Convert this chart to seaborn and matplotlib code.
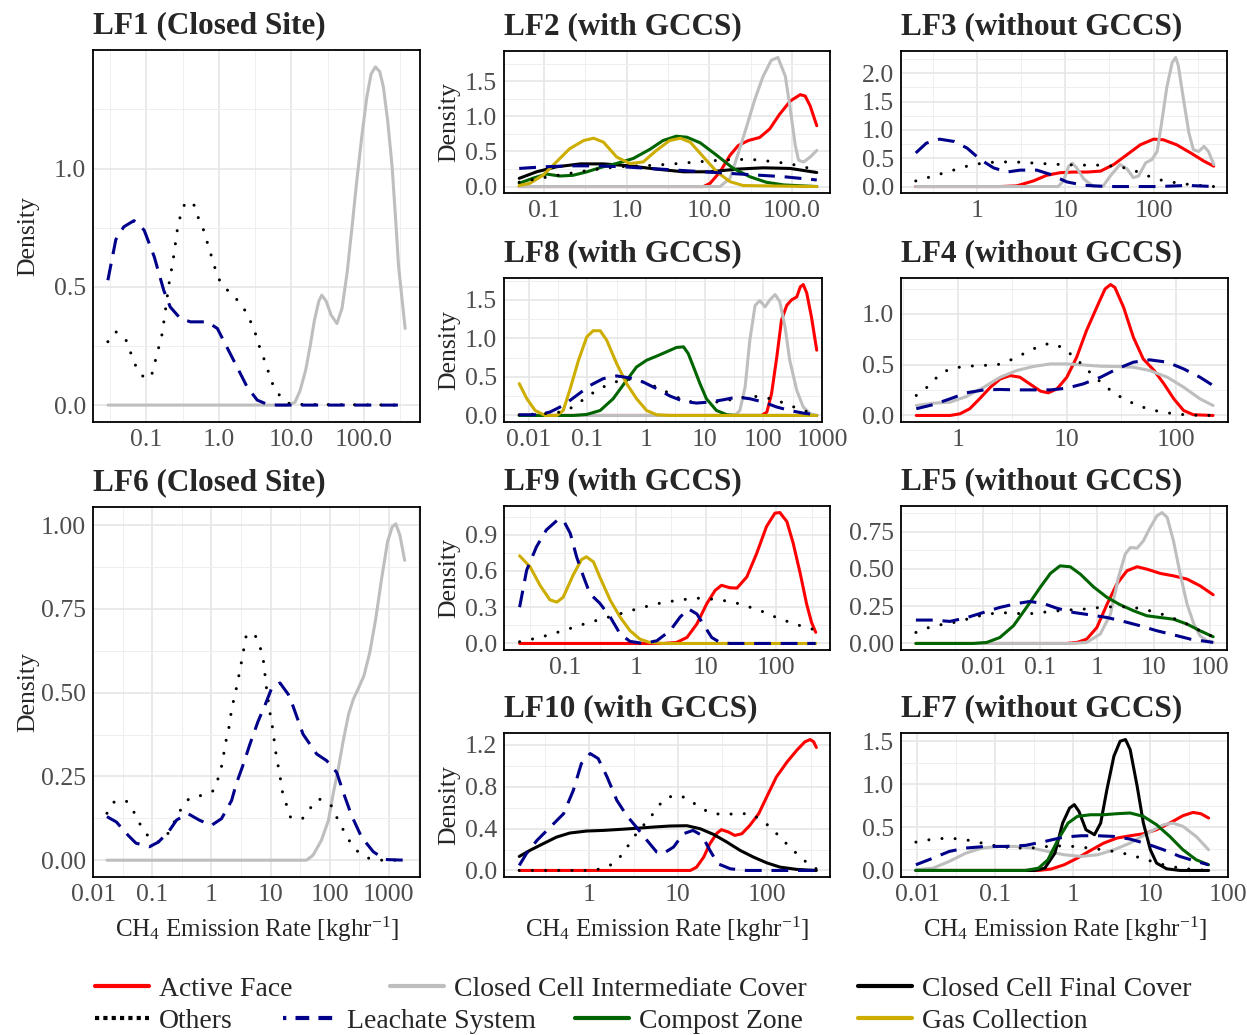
import numpy as np
import pandas as pd
import matplotlib
matplotlib.use('Agg')
import matplotlib.pyplot as plt
import seaborn as sns
from matplotlib.lines import Line2D
from matplotlib.ticker import NullFormatter

# ---- data: x = log10(CH4 emission rate, kg/hr), y = density ----

# LF1 (Closed Site)
lf1_inter_x = [-1.53, 0.95, 1.05, 1.12, 1.20, 1.26, 1.32, 1.38, 1.42, 1.48, 1.55, 1.63, 1.70, 1.77, 1.84, 1.90, 1.97, 2.04, 2.10, 2.16, 2.22, 2.27, 2.33, 2.39, 2.44, 2.48, 2.53, 2.57]
lf1_inter_y = [0, 0, 0.012, 0.06, 0.15, 0.25, 0.36, 0.44, 0.465, 0.44, 0.38, 0.345, 0.41, 0.56, 0.76, 0.94, 1.13, 1.30, 1.40, 1.43, 1.41, 1.345, 1.20, 1.01, 0.78, 0.585, 0.44, 0.324]
lf1_leach_x = [-1.53, -1.42, -1.31, -1.17, -1.03, -0.89, -0.76, -0.67, -0.53, -0.39, -0.16, -0.02, 0.11, 0.25, 0.39, 0.53, 0.67, 0.80, 2.57]
lf1_leach_y = [0.528, 0.70, 0.754, 0.78, 0.74, 0.627, 0.486, 0.415, 0.366, 0.352, 0.352, 0.324, 0.246, 0.162, 0.077, 0.021, 0.003, 0, 0]
lf1_others_x = [-1.53, -1.42, -1.28, -1.22, -1.15, -1.06, -0.98, -0.92, -0.85, -0.78, -0.73, -0.69, -0.63, -0.57, -0.53, -0.46, -0.34, -0.28, -0.21, -0.05, 0.02, 0.14, 0.28, 0.39, 0.46, 0.53, 0.58, 0.66, 0.70, 0.77, 0.87, 0.99, 2.57]
lf1_others_y = [0.268, 0.31, 0.275, 0.225, 0.169, 0.125, 0.11, 0.134, 0.218, 0.303, 0.415, 0.507, 0.613, 0.746, 0.80, 0.86, 0.845, 0.79, 0.74, 0.577, 0.52, 0.479, 0.437, 0.387, 0.338, 0.282, 0.225, 0.17, 0.12, 0.07, 0.028, 0.003, 0]

# LF6 (Closed Site)
lf6_inter_x = [-1.77, 1.61, 1.72, 1.86, 1.98, 2.06, 2.15, 2.23, 2.32, 2.40, 2.48, 2.58, 2.68, 2.78, 2.88, 2.98, 3.06, 3.12, 3.19, 3.27]
lf6_inter_y = [0, 0, 0.015, 0.059, 0.119, 0.198, 0.277, 0.356, 0.435, 0.48, 0.51, 0.55, 0.62, 0.72, 0.84, 0.95, 0.995, 1.004, 0.97, 0.895]
lf6_leach_x = [-1.77, -1.61, -1.41, -1.28, -1.05, -0.90, -0.73, -0.59, -0.40, -0.20, 0.0, 0.17, 0.34, 0.42, 0.54, 0.65, 0.79, 0.90, 1.02, 1.16, 1.30, 1.38, 1.55, 1.78, 1.95, 2.12, 2.23, 2.37, 2.54, 2.74, 2.94, 3.27]
lf6_leach_y = [0.13, 0.114, 0.074, 0.051, 0.04, 0.054, 0.084, 0.12, 0.139, 0.119, 0.104, 0.124, 0.178, 0.228, 0.287, 0.346, 0.415, 0.46, 0.514, 0.529, 0.495, 0.46, 0.376, 0.317, 0.297, 0.262, 0.203, 0.134, 0.069, 0.025, 0.002, 0]
lf6_others_x = [-1.77, -1.64, -1.44, -1.30, -1.20, -1.07, -0.89, -0.73, -0.52, -0.38, -0.18, 0.02, 0.11, 0.17, 0.21, 0.25, 0.30, 0.34, 0.43, 0.51, 0.59, 0.73, 0.82, 0.88, 0.93, 0.99, 1.03, 1.06, 1.09, 1.13, 1.17, 1.20, 1.27, 1.34, 1.54, 1.67, 1.82, 2.02, 2.12, 2.22, 2.33, 2.47, 2.67, 2.88, 3.27]
lf6_others_y = [0.14, 0.176, 0.176, 0.14, 0.104, 0.071, 0.054, 0.081, 0.151, 0.184, 0.193, 0.206, 0.243, 0.28, 0.32, 0.36, 0.40, 0.45, 0.52, 0.594, 0.673, 0.675, 0.639, 0.594, 0.515, 0.44, 0.40, 0.36, 0.32, 0.28, 0.24, 0.205, 0.165, 0.127, 0.124, 0.155, 0.183, 0.165, 0.128, 0.094, 0.059, 0.027, 0.005, 0, 0]

# LF2 (with GCCS)
lf2_active_x = [-1.30, 0.93, 1.01, 1.13, 1.25, 1.35, 1.47, 1.61, 1.73, 1.85, 1.98, 2.10, 2.16, 2.22, 2.30]
lf2_active_y = [0, 0, 0.047, 0.21, 0.445, 0.585, 0.655, 0.70, 0.82, 1.03, 1.22, 1.31, 1.29, 1.15, 0.867]
lf2_inter_x = [-1.30, 1.13, 1.25, 1.33, 1.43, 1.55, 1.65, 1.75, 1.83, 1.92, 1.98, 2.04, 2.08, 2.14, 2.22, 2.30]
lf2_inter_y = [0, 0, 0.117, 0.40, 0.773, 1.24, 1.57, 1.80, 1.84, 1.57, 1.10, 0.585, 0.375, 0.35, 0.42, 0.515]
lf2_final_x = [-1.30, -1.09, -0.85, -0.56, -0.28, 0.04, 0.36, 0.69, 1.01, 1.33, 1.65, 1.98, 2.30]
lf2_final_y = [0.117, 0.21, 0.281, 0.323, 0.323, 0.295, 0.248, 0.21, 0.21, 0.248, 0.267, 0.258, 0.20]
lf2_others_x = [-1.30, -1.05, -0.77, -0.44, -0.12, 0.20, 0.52, 0.85, 1.17, 1.49, 1.81, 2.06, 2.30]
lf2_others_y = [0.061, 0.117, 0.173, 0.234, 0.281, 0.295, 0.318, 0.351, 0.379, 0.389, 0.351, 0.304, 0.234]
lf2_leach_x = [-1.30, -1.01, -0.69, -0.36, -0.04, 0.28, 0.60, 0.93, 1.25, 1.57, 1.90, 2.30]
lf2_leach_y = [0.258, 0.281, 0.295, 0.295, 0.281, 0.258, 0.234, 0.21, 0.187, 0.164, 0.14, 0.094]
lf2_compost_x = [-1.30, -1.13, -0.97, -0.81, -0.65, -0.48, -0.32, -0.12, 0.08, 0.28, 0.44, 0.60, 0.73, 0.89, 1.09, 1.29, 1.49, 1.69, 1.90, 2.30]
lf2_compost_y = [0.047, 0.12, 0.178, 0.15, 0.16, 0.21, 0.27, 0.33, 0.40, 0.53, 0.656, 0.717, 0.703, 0.623, 0.445, 0.258, 0.14, 0.061, 0.023, 0]
lf2_gas_x = [-1.30, -1.17, -1.01, -0.85, -0.69, -0.52, -0.40, -0.28, -0.12, 0.04, 0.20, 0.36, 0.52, 0.65, 0.77, 0.93, 1.09, 1.25, 1.41, 2.30]
lf2_gas_y = [0.014, 0.047, 0.164, 0.351, 0.539, 0.656, 0.689, 0.632, 0.42, 0.328, 0.351, 0.515, 0.656, 0.689, 0.632, 0.42, 0.21, 0.07, 0.014, 0]

# LF8 (with GCCS)
lf8_active_x = [-2.16, 1.97, 2.06, 2.14, 2.23, 2.31, 2.40, 2.48, 2.57, 2.63, 2.68, 2.74, 2.82, 2.91]
lf8_active_y = [0, 0, 0.043, 0.283, 0.761, 1.24, 1.43, 1.50, 1.54, 1.67, 1.70, 1.59, 1.28, 0.848]
lf8_inter_x = [-2.16, 1.52, 1.60, 1.69, 1.77, 1.86, 1.94, 2.03, 2.11, 2.20, 2.28, 2.37, 2.45, 2.57, 2.68, 2.80, 2.91]
lf8_inter_y = [0, 0, 0.065, 0.37, 0.978, 1.43, 1.49, 1.41, 1.50, 1.57, 1.48, 1.15, 0.717, 0.326, 0.109, 0.022, 0]
lf8_others_x = [-2.16, -1.75, -1.47, -1.24, -1.01, -0.84, -0.67, -0.44, -0.27, -0.05, 0.18, 0.41, 0.64, 0.86, 1.20, 1.55, 1.77, 2.00, 2.23, 2.45, 2.68, 2.91]
lf8_others_y = [0.009, 0.022, 0.043, 0.109, 0.239, 0.326, 0.391, 0.457, 0.47, 0.435, 0.37, 0.283, 0.196, 0.165, 0.174, 0.217, 0.252, 0.239, 0.196, 0.13, 0.065, 0.013]
lf8_leach_x = [-2.16, -1.86, -1.64, -1.41, -1.18, -0.95, -0.73, -0.50, -0.27, -0.05, 0.18, 0.41, 0.64, 0.86, 1.09, 1.32, 1.55, 1.77, 2.00, 2.23, 2.45, 2.68, 2.91]
lf8_leach_y = [0.009, 0.009, 0.043, 0.13, 0.261, 0.391, 0.478, 0.513, 0.487, 0.435, 0.348, 0.252, 0.183, 0.161, 0.174, 0.204, 0.239, 0.217, 0.174, 0.109, 0.065, 0.03, 0.009]
lf8_compost_x = [-2.16, -1.24, -1.01, -0.78, -0.56, -0.33, -0.16, 0.01, 0.18, 0.35, 0.52, 0.64, 0.72, 0.81, 0.92, 1.03, 1.20, 1.38, 1.55, 2.91]
lf8_compost_y = [0, 0, 0.013, 0.065, 0.217, 0.457, 0.63, 0.717, 0.77, 0.826, 0.883, 0.891, 0.804, 0.63, 0.413, 0.217, 0.065, 0.009, 0, 0]
lf8_gas_x = [-2.16, -2.03, -1.89, -1.72, -1.52, -1.41, -1.30, -1.15, -1.01, -0.90, -0.78, -0.67, -0.50, -0.33, -0.16, 0.01, 0.18, 0.41, 2.91]
lf8_gas_y = [0.413, 0.217, 0.065, 0, 0, 0.065, 0.326, 0.717, 1.02, 1.10, 1.10, 0.978, 0.674, 0.413, 0.217, 0.065, 0.009, 0, 0]

# LF9 (with GCCS)
lf9_active_x = [-1.65, 0.39, 0.58, 0.73, 0.87, 1.01, 1.13, 1.22, 1.34, 1.44, 1.58, 1.72, 1.86, 1.98, 2.05, 2.15, 2.24, 2.34, 2.43, 2.50, 2.56]
lf9_active_y = [0, 0, 0.008, 0.05, 0.161, 0.328, 0.439, 0.481, 0.461, 0.458, 0.55, 0.744, 0.967, 1.078, 1.083, 1.008, 0.828, 0.578, 0.328, 0.175, 0.092]
lf9_others_x = [-1.65, -1.36, -1.03, -0.70, -0.36, -0.03, 0.30, 0.63, 0.91, 1.20, 1.48, 1.77, 2.05, 2.34, 2.56]
lf9_others_y = [0.014, 0.05, 0.106, 0.167, 0.222, 0.278, 0.328, 0.361, 0.375, 0.361, 0.328, 0.272, 0.203, 0.147, 0.111]
lf9_leach_x = [-1.65, -1.55, -1.41, -1.27, -1.12, -1.03, -0.93, -0.84, -0.74, -0.65, -0.51, -0.36, -0.22, -0.08, 0.11, 0.30, 0.49, 0.63, 0.75, 0.87, 0.96, 1.08, 1.20, 1.34, 2.56]
lf9_leach_y = [0.30, 0.606, 0.80, 0.939, 1.017, 1.022, 0.911, 0.717, 0.55, 0.411, 0.333, 0.217, 0.078, 0.017, 0, 0.022, 0.106, 0.217, 0.286, 0.244, 0.161, 0.05, 0.008, 0, 0]
lf9_gas_x = [-1.65, -1.50, -1.36, -1.22, -1.12, -1.03, -0.89, -0.77, -0.70, -0.60, -0.51, -0.36, -0.22, -0.08, 0.06, 0.20, 0.39, 2.56]
lf9_gas_y = [0.725, 0.633, 0.481, 0.361, 0.342, 0.383, 0.564, 0.694, 0.717, 0.675, 0.55, 0.356, 0.217, 0.106, 0.036, 0.008, 0, 0]

# LF10 (with GCCS)
lf10_active_x = [-0.79, 1.14, 1.21, 1.29, 1.36, 1.44, 1.49, 1.57, 1.64, 1.72, 1.81, 1.91, 2.0, 2.11, 2.23, 2.34, 2.43, 2.49, 2.53, 2.56]
lf10_active_y = [0, 0, 0.032, 0.128, 0.256, 0.358, 0.39, 0.367, 0.335, 0.351, 0.431, 0.543, 0.703, 0.895, 1.038, 1.15, 1.23, 1.252, 1.23, 1.176]
lf10_final_x = [-0.79, -0.67, -0.52, -0.37, -0.22, -0.03, 0.16, 0.35, 0.53, 0.72, 0.91, 1.10, 1.25, 1.40, 1.55, 1.70, 1.85, 2.0, 2.15, 2.34, 2.56]
lf10_final_y = [0.134, 0.192, 0.256, 0.319, 0.358, 0.377, 0.383, 0.393, 0.403, 0.415, 0.425, 0.428, 0.399, 0.345, 0.272, 0.192, 0.128, 0.073, 0.032, 0.01, 0]
lf10_others_x = [-0.79, 0.01, 0.14, 0.27, 0.38, 0.50, 0.61, 0.72, 0.83, 0.95, 1.10, 1.21, 1.36, 1.51, 1.66, 1.81, 1.92, 2.04, 2.15, 2.26, 2.38, 2.49, 2.56]
lf10_others_y = [0, 0, 0.016, 0.064, 0.16, 0.319, 0.431, 0.543, 0.671, 0.719, 0.696, 0.623, 0.55, 0.534, 0.543, 0.543, 0.495, 0.415, 0.319, 0.224, 0.128, 0.048, 0.016]
lf10_leach_x = [-0.79, -0.71, -0.59, -0.44, -0.29, -0.18, -0.09, 0.01, 0.10, 0.20, 0.31, 0.42, 0.53, 0.65, 0.76, 0.83, 0.95, 1.06, 1.17, 1.27, 1.36, 1.45, 1.59, 1.77, 2.56]
lf10_leach_y = [0.048, 0.16, 0.288, 0.415, 0.543, 0.767, 1.022, 1.118, 1.07, 0.895, 0.671, 0.527, 0.415, 0.288, 0.176, 0.16, 0.224, 0.351, 0.383, 0.335, 0.192, 0.064, 0.016, 0, 0]

# LF3 (without GCCS)
lf3_active_x = [-0.69, 0.26, 0.45, 0.64, 0.79, 0.94, 1.09, 1.25, 1.40, 1.55, 1.70, 1.85, 2.00, 2.11, 2.26, 2.42, 2.57, 2.68]
lf3_active_y = [0, 0, 0.012, 0.099, 0.198, 0.244, 0.256, 0.256, 0.273, 0.39, 0.564, 0.738, 0.837, 0.826, 0.738, 0.593, 0.448, 0.36]
lf3_inter_x = [-0.69, 0.92, 0.98, 1.04, 1.08, 1.13, 1.21, 1.32, 1.43, 1.51, 1.62, 1.70, 1.77, 1.83, 1.91, 1.98, 2.04, 2.09, 2.15, 2.21, 2.25, 2.28, 2.34, 2.40, 2.45, 2.51, 2.57, 2.62, 2.68]
lf3_inter_y = [0, 0, 0.099, 0.36, 0.41, 0.33, 0.134, 0, 0.01, 0.186, 0.39, 0.31, 0.157, 0.186, 0.419, 0.477, 0.62, 1.12, 1.76, 2.19, 2.28, 2.13, 1.52, 0.94, 0.65, 0.62, 0.71, 0.62, 0.39]
lf3_others_x = [-0.69, -0.49, -0.30, -0.11, 0.08, 0.26, 0.49, 0.72, 0.94, 1.17, 1.40, 1.62, 1.77, 1.89, 2.04, 2.19, 2.38, 2.57, 2.68]
lf3_others_y = [0.099, 0.186, 0.273, 0.36, 0.419, 0.436, 0.43, 0.407, 0.39, 0.378, 0.378, 0.349, 0.29, 0.215, 0.128, 0.081, 0.041, 0.012, 0]
lf3_leach_x = [-0.69, -0.57, -0.42, -0.26, -0.11, 0.04, 0.19, 0.34, 0.49, 0.68, 0.83, 1.02, 1.21, 1.47, 2.04, 2.23, 2.38, 2.53, 2.68]
lf3_leach_y = [0.593, 0.767, 0.837, 0.797, 0.68, 0.477, 0.33, 0.256, 0.29, 0.29, 0.215, 0.081, 0.023, 0, 0, 0.01, 0.02, 0.01, 0]

# LF4 (without GCCS)
lf4_active_x = [-0.38, -0.07, 0.02, 0.11, 0.20, 0.30, 0.39, 0.48, 0.57, 0.66, 0.76, 0.83, 0.91, 1.0, 1.09, 1.18, 1.28, 1.35, 1.40, 1.44, 1.52, 1.61, 1.70, 1.80, 1.89, 1.98, 2.07, 2.16, 2.34]
lf4_active_y = [0, 0, 0.016, 0.066, 0.164, 0.279, 0.36, 0.393, 0.377, 0.311, 0.239, 0.223, 0.262, 0.377, 0.574, 0.836, 1.08, 1.246, 1.29, 1.262, 1.066, 0.77, 0.557, 0.443, 0.311, 0.164, 0.049, 0.007, 0]
lf4_inter_x = [-0.38, -0.22, -0.07, 0.08, 0.24, 0.39, 0.54, 0.69, 0.85, 1.0, 1.15, 1.31, 1.46, 1.61, 1.76, 1.92, 2.07, 2.22, 2.34]
lf4_inter_y = [0.098, 0.121, 0.131, 0.187, 0.279, 0.377, 0.443, 0.482, 0.508, 0.508, 0.498, 0.485, 0.482, 0.475, 0.443, 0.377, 0.279, 0.164, 0.098]
lf4_others_x = [-0.38, -0.28, -0.16, -0.07, 0.05, 0.20, 0.36, 0.51, 0.63, 0.76, 0.85, 0.97, 1.06, 1.15, 1.24, 1.34, 1.43, 1.55, 1.67, 1.83, 1.98, 2.13, 2.34]
lf4_others_y = [0.197, 0.279, 0.41, 0.459, 0.482, 0.492, 0.498, 0.557, 0.623, 0.689, 0.711, 0.666, 0.58, 0.492, 0.393, 0.302, 0.22, 0.148, 0.089, 0.043, 0.016, 0.003, 0]
lf4_leach_x = [-0.38, -0.22, -0.07, 0.08, 0.24, 0.39, 0.54, 0.69, 0.85, 1.0, 1.15, 1.31, 1.46, 1.61, 1.76, 1.92, 2.07, 2.22, 2.34]
lf4_leach_y = [0.066, 0.108, 0.164, 0.223, 0.252, 0.256, 0.252, 0.252, 0.252, 0.269, 0.311, 0.377, 0.459, 0.525, 0.548, 0.525, 0.459, 0.377, 0.295]

# LF5 (without GCCS)
lf5_active_x = [-3.19, -0.53, -0.35, -0.18, 0.0, 0.18, 0.35, 0.53, 0.71, 0.88, 1.12, 1.35, 1.59, 1.82, 2.05]
lf5_active_y = [0, 0, 0.007, 0.029, 0.107, 0.264, 0.398, 0.488, 0.515, 0.499, 0.47, 0.454, 0.432, 0.387, 0.327]
lf5_inter_x = [-3.19, -0.41, -0.18, 0.06, 0.24, 0.38, 0.50, 0.59, 0.71, 0.82, 0.94, 1.06, 1.15, 1.24, 1.35, 1.47, 1.59, 1.71, 1.82, 1.94, 2.05]
lf5_inter_y = [0, 0, 0.007, 0.063, 0.197, 0.443, 0.60, 0.644, 0.64, 0.689, 0.779, 0.857, 0.879, 0.846, 0.689, 0.465, 0.264, 0.13, 0.051, 0.018, 0.007]
lf5_others_x = [-3.19, -2.88, -2.59, -2.29, -2.0, -1.71, -1.41, -1.12, -0.82, -0.53, -0.24, 0.06, 0.35, 0.65, 0.94, 1.24, 1.53, 1.82, 2.05]
lf5_others_y = [0.074, 0.119, 0.134, 0.163, 0.192, 0.208, 0.201, 0.201, 0.215, 0.224, 0.23, 0.242, 0.248, 0.242, 0.219, 0.186, 0.141, 0.085, 0.045]
lf5_leach_x = [-3.19, -2.88, -2.59, -2.29, -2.0, -1.71, -1.41, -1.18, -0.94, -0.71, -0.41, -0.12, 0.18, 0.47, 0.76, 1.06, 1.35, 1.65, 2.05]
lf5_leach_y = [0.157, 0.157, 0.148, 0.174, 0.208, 0.242, 0.268, 0.282, 0.268, 0.237, 0.208, 0.192, 0.174, 0.148, 0.119, 0.085, 0.058, 0.029, 0.007]
lf5_compost_x = [-3.19, -2.18, -1.94, -1.71, -1.47, -1.24, -1.0, -0.82, -0.65, -0.47, -0.29, -0.06, 0.18, 0.41, 0.65, 0.88, 1.12, 1.35, 1.59, 1.82, 2.05]
lf5_compost_y = [0, 0, 0.007, 0.04, 0.119, 0.242, 0.376, 0.47, 0.521, 0.515, 0.465, 0.38, 0.309, 0.26, 0.219, 0.186, 0.174, 0.163, 0.13, 0.085, 0.045]

# LF7 (without GCCS)
lf7_active_x = [-2.02, -0.44, -0.28, -0.11, 0.06, 0.23, 0.40, 0.57, 0.74, 0.91, 1.08, 1.25, 1.42, 1.55, 1.65, 1.75]
lf7_active_y = [0, 0, 0.016, 0.066, 0.143, 0.233, 0.318, 0.376, 0.403, 0.426, 0.473, 0.55, 0.636, 0.674, 0.659, 0.609]
lf7_inter_x = [-2.02, -1.80, -1.59, -1.38, -1.17, -0.95, -0.74, -0.53, -0.32, -0.11, 0.11, 0.32, 0.53, 0.74, 0.95, 1.17, 1.29, 1.42, 1.59, 1.75]
lf7_inter_y = [0.008, 0.027, 0.105, 0.20, 0.26, 0.279, 0.279, 0.26, 0.221, 0.182, 0.163, 0.182, 0.24, 0.318, 0.426, 0.531, 0.55, 0.512, 0.395, 0.24]
lf7_final_x = [-2.02, -0.49, -0.36, -0.23, -0.13, -0.04, 0.02, 0.08, 0.17, 0.28, 0.36, 0.44, 0.53, 0.61, 0.68, 0.74, 0.83, 0.91, 1.0, 1.08, 1.21, 1.38, 1.75]
lf7_final_y = [0, 0, 0.027, 0.2, 0.55, 0.725, 0.764, 0.686, 0.473, 0.415, 0.55, 0.938, 1.326, 1.50, 1.52, 1.403, 0.977, 0.55, 0.24, 0.085, 0.019, 0, 0]
lf7_others_x = [-2.02, -1.80, -1.59, -1.38, -1.17, -0.95, -0.74, -0.53, -0.32, -0.11, 0.11, 0.32, 0.53, 0.74, 0.95, 1.17, 1.38, 1.59, 1.75]
lf7_others_y = [0.329, 0.364, 0.376, 0.357, 0.318, 0.279, 0.26, 0.26, 0.279, 0.287, 0.271, 0.248, 0.221, 0.182, 0.124, 0.066, 0.027, 0.008, 0]
lf7_leach_x = [-2.02, -1.80, -1.59, -1.38, -1.12, -0.87, -0.61, -0.36, -0.11, 0.11, 0.32, 0.53, 0.74, 0.95, 1.17, 1.38, 1.59, 1.75]
lf7_leach_y = [0.066, 0.143, 0.221, 0.26, 0.279, 0.279, 0.291, 0.337, 0.388, 0.403, 0.403, 0.395, 0.364, 0.31, 0.24, 0.163, 0.105, 0.066]
lf7_compost_x = [-2.02, -0.61, -0.44, -0.32, -0.19, -0.06, 0.06, 0.23, 0.40, 0.57, 0.74, 0.91, 1.08, 1.25, 1.42, 1.59, 1.75]
lf7_compost_y = [0, 0, 0.027, 0.124, 0.357, 0.55, 0.628, 0.647, 0.647, 0.659, 0.667, 0.628, 0.531, 0.395, 0.24, 0.124, 0.066]

# categories
source_names = {
    'active': 'Active Face',
    'inter': 'Closed Cell Intermediate Cover',
    'final': 'Closed Cell Final Cover',
    'others': 'Others',
    'leach': 'Leachate System',
    'compost': 'Compost Zone',
    'gas': 'Gas Collection',
}
source_colors = {
    'active': '#FF0000', 'inter': '#BEBEBE', 'final': '#000000', 'others': '#000000',
    'leach': '#00008B', 'compost': '#006400', 'gas': '#CDAD00',
}
DOTTED = (0, (0.01, 4.3))
DASHED = (0, (5.5, 3.2))
source_styles = {
    'active': '-', 'inter': '-', 'final': '-', 'others': DOTTED,
    'leach': DASHED, 'compost': '-', 'gas': '-',
}
draw_order = ['active', 'inter', 'final', 'compost', 'gas', 'others', 'leach']

# panels: title, box in pixels (left, top, right, bottom), x-limits (log10), ticks
panels = [
    dict(title='LF1 (Closed Site)', box=(93, 50, 420, 422), xlim=(-1.735, 2.775),
         xt=[0.1, 1, 10, 100], xl=['0.1', '1.0', '10.0', '100.0'],
         yt=[0, 0.5, 1.0], yl=['0.0', '0.5', '1.0'], ylab=39, xlab=False,
         series={'inter': (lf1_inter_x, lf1_inter_y), 'others': (lf1_others_x, lf1_others_y),
                 'leach': (lf1_leach_x, lf1_leach_y)}),
    dict(title='LF6 (Closed Site)', box=(93, 507, 420, 877), xlim=(-2.006, 3.53),
         xt=[0.01, 0.1, 1, 10, 100, 1000], xl=['0.01', '0.1', '1', '10', '100', '1000'],
         yt=[0, 0.25, 0.5, 0.75, 1.0], yl=['0.00', '0.25', '0.50', '0.75', '1.00'], ylab=39, xlab=True,
         series={'inter': (lf6_inter_x, lf6_inter_y), 'others': (lf6_others_x, lf6_others_y),
                 'leach': (lf6_leach_x, lf6_leach_y)}),
    dict(title='LF2 (with GCCS)', box=(504, 51, 830, 193), xlim=(-1.484, 2.46),
         xt=[0.1, 1, 10, 100], xl=['0.1', '1.0', '10.0', '100.0'],
         yt=[0, 0.5, 1.0, 1.5], yl=['0.0', '0.5', '1.0', '1.5'], ylab=460, xlab=False,
         series={'active': (lf2_active_x, lf2_active_y), 'inter': (lf2_inter_x, lf2_inter_y),
                 'final': (lf2_final_x, lf2_final_y), 'others': (lf2_others_x, lf2_others_y),
                 'leach': (lf2_leach_x, lf2_leach_y), 'compost': (lf2_compost_x, lf2_compost_y),
                 'gas': (lf2_gas_x, lf2_gas_y)}),
    dict(title='LF8 (with GCCS)', box=(504, 278, 822, 422), xlim=(-2.42, 3.0),
         xt=[0.01, 0.1, 1, 10, 100, 1000], xl=['0.01', '0.1', '1', '10', '100', '1000'],
         yt=[0, 0.5, 1.0, 1.5], yl=['0.0', '0.5', '1.0', '1.5'], ylab=460, xlab=False,
         series={'active': (lf8_active_x, lf8_active_y), 'inter': (lf8_inter_x, lf8_inter_y),
                 'others': (lf8_others_x, lf8_others_y), 'leach': (lf8_leach_x, lf8_leach_y),
                 'compost': (lf8_compost_x, lf8_compost_y), 'gas': (lf8_gas_x, lf8_gas_y)}),
    dict(title='LF9 (with GCCS)', box=(504, 506, 830, 650), xlim=(-1.872, 2.763),
         xt=[0.1, 1, 10, 100], xl=['0.1', '1', '10', '100'],
         yt=[0, 0.3, 0.6, 0.9], yl=['0.0', '0.3', '0.6', '0.9'], ylab=460, xlab=False,
         series={'active': (lf9_active_x, lf9_active_y), 'others': (lf9_others_x, lf9_others_y),
                 'leach': (lf9_leach_x, lf9_leach_y), 'gas': (lf9_gas_x, lf9_gas_y)}),
    dict(title='LF10 (with GCCS)', box=(504, 733, 830, 877), xlim=(-0.962, 2.714),
         xt=[1, 10, 100], xl=['1', '10', '100'],
         yt=[0, 0.4, 0.8, 1.2], yl=['0.0', '0.4', '0.8', '1.2'], ylab=460, xlab=True,
         series={'active': (lf10_active_x, lf10_active_y), 'final': (lf10_final_x, lf10_final_y),
                 'others': (lf10_others_x, lf10_others_y), 'leach': (lf10_leach_x, lf10_leach_y)}),
    dict(title='LF3 (without GCCS)', box=(901, 51, 1227, 193), xlim=(-0.857, 2.83),
         xt=[1, 10, 100], xl=['1', '10', '100'],
         yt=[0, 0.5, 1.0, 1.5, 2.0], yl=['0.0', '0.5', '1.0', '1.5', '2.0'], ylab=None, xlab=False,
         series={'active': (lf3_active_x, lf3_active_y), 'inter': (lf3_inter_x, lf3_inter_y),
                 'others': (lf3_others_x, lf3_others_y), 'leach': (lf3_leach_x, lf3_leach_y)}),
    dict(title='LF4 (without GCCS)', box=(901, 278, 1228, 422), xlim=(-0.52, 2.477),
         xt=[1, 10, 100], xl=['1', '10', '100'],
         yt=[0, 0.5, 1.0], yl=['0.0', '0.5', '1.0'], ylab=None, xlab=False,
         series={'active': (lf4_active_x, lf4_active_y), 'inter': (lf4_inter_x, lf4_inter_y),
                 'others': (lf4_others_x, lf4_others_y), 'leach': (lf4_leach_x, lf4_leach_y)}),
    dict(title='LF5 (without GCCS)', box=(901, 506, 1227, 650), xlim=(-3.453, 2.294),
         xt=[0.01, 0.1, 1, 10, 100], xl=['0.01', '0.1', '1', '10', '100'],
         yt=[0, 0.25, 0.5, 0.75], yl=['0.00', '0.25', '0.50', '0.75'], ylab=None, xlab=False,
         series={'active': (lf5_active_x, lf5_active_y), 'inter': (lf5_inter_x, lf5_inter_y),
                 'others': (lf5_others_x, lf5_others_y), 'leach': (lf5_leach_x, lf5_leach_y),
                 'compost': (lf5_compost_x, lf5_compost_y)}),
    dict(title='LF7 (without GCCS)', box=(901, 733, 1228, 877), xlim=(-2.212, 2.0),
         xt=[0.01, 0.1, 1, 10, 100], xl=['0.01', '0.1', '1', '10', '100'],
         yt=[0, 0.5, 1.0, 1.5], yl=['0.0', '0.5', '1.0', '1.5'], ylab=None, xlab=True,
         series={'active': (lf7_active_x, lf7_active_y), 'inter': (lf7_inter_x, lf7_inter_y),
                 'final': (lf7_final_x, lf7_final_y), 'others': (lf7_others_x, lf7_others_y),
                 'leach': (lf7_leach_x, lf7_leach_y), 'compost': (lf7_compost_x, lf7_compost_y)}),
]

W, H = 1247, 1035

sns.set_theme(style='white')
plt.rcParams['font.family'] = ['Liberation Serif', 'DejaVu Serif']
plt.rcParams['mathtext.fontset'] = 'custom'
plt.rcParams['mathtext.rm'] = 'Liberation Serif'
plt.rcParams['mathtext.it'] = 'Liberation Serif:italic'

fig = plt.figure(figsize=(W / 100, H / 100), dpi=100)
fig.patch.set_facecolor('white')

for p in panels:
    l, t, r, b = p['box']
    ax = fig.add_axes([l / W, 1 - b / H, (r - l) / W, (b - t) / H])
    ax.set_xscale('log')

    ymax = 0
    for key in draw_order:
        if key not in p['series']:
            continue
        xs, ys = p['series'][key]
        ymax = max(ymax, max(ys))
        df = pd.DataFrame({'rate': 10 ** np.array(xs, dtype=float), 'density': ys})
        style = source_styles[key]
        sns.lineplot(data=df, x='rate', y='density', ax=ax, color=source_colors[key],
                     linewidth=2.2, linestyle=style, sort=False, estimator=None,
                     dash_capstyle='round' if style is DOTTED else 'butt')

    lo, hi = p['xlim']
    ax.set_xlim(10 ** lo, 10 ** hi)
    ax.set_ylim(-0.05 * ymax, 1.05 * ymax)

    ax.set_xticks(p['xt'], p['xl'])
    xminor = [10 ** (k + 0.5) for k in range(-4, 4) if lo <= k + 0.5 <= hi]
    ax.set_xticks(xminor, minor=True)
    ax.xaxis.set_minor_formatter(NullFormatter())
    ax.set_yticks(p['yt'], p['yl'])
    step = p['yt'][1] - p['yt'][0]
    yminor = [v + step / 2 for v in p['yt'] + [p['yt'][-1] + step] if v + step / 2 <= 1.05 * ymax]
    ax.set_yticks(yminor, minor=True)

    ax.grid(which='major', color='#E4E4E4', linewidth=1.1)
    ax.grid(which='minor', color='#EFEFEF', linewidth=0.7)
    ax.set_axisbelow(True)
    ax.tick_params(which='both', length=0, labelsize=18.5, labelcolor='#4D4D4D', pad=5)
    for s in ax.spines.values():
        s.set_visible(True)
        s.set_color('black')
        s.set_linewidth(1.3)

    ax.set_title(p['title'], loc='left', fontsize=22.5, fontweight='bold', pad=12)
    if p['ylab'] is not None:
        ax.set_ylabel('Density', fontsize=18.5)
        ax.yaxis.set_label_coords((p['ylab'] - l) / (r - l), 0.5)
    else:
        ax.set_ylabel('')
    if p['xlab']:
        ax.set_xlabel(r'CH$_4$ Emission Rate [kghr$^{-1}$]', fontsize=18, labelpad=6)
    else:
        ax.set_xlabel('')

# legend, placed entry by entry as in the original
legend_entries = [
    ('active', 95, 989), ('inter', 390, 989), ('final', 858, 989),
    ('others', 95, 1021), ('leach', 283, 1021), ('compost', 575, 1021), ('gas', 858, 1021),
]
legend_styles = {'others': (0, (1, 1)), 'leach': (2.5, (3.3, 2.2))}
for key, x, y in legend_entries:
    h = Line2D([], [], color=source_colors[key], linewidth=3,
               linestyle=legend_styles.get(key, '-'))
    fig.legend(handles=[h], labels=[source_names[key]], loc='center left',
               bbox_to_anchor=(x / W, 1 - y / H), frameon=False, borderpad=0,
               borderaxespad=0, handlelength=1.95, handletextpad=0.35,
               prop={'family': 'Liberation Serif', 'size': 20})

fig.savefig('out.png', dpi=100, facecolor='white')
